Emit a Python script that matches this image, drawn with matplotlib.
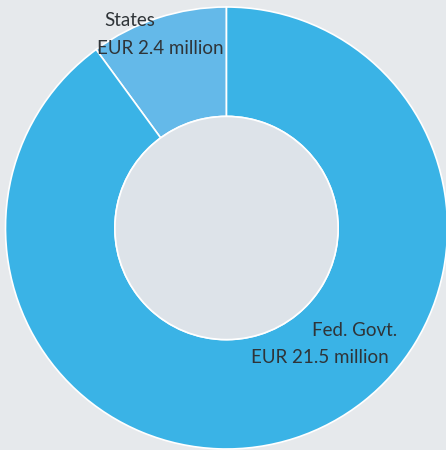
import matplotlib.pyplot as plt
from matplotlib.patches import Circle

labels = ["States", "Fed. Govt."]
amounts = [2.4, 21.5]  # EUR million
colors = ["#64b9e9", "#3ab3e6"]

bg = "#e6e9ec"
hole = "#dde3e9"
txt = "#2f3438"

fig = plt.figure(figsize=(4.46, 4.5), dpi=100, facecolor=bg)
ax = fig.add_axes([0, 0, 1, 1])
ax.set_facecolor(bg)

ax.pie(amounts, colors=colors, startangle=90, counterclock=True,
       radius=1.0, wedgeprops=dict(width=0.495, edgecolor="white", linewidth=1.2))
ax.add_patch(Circle((0, 0), 0.505, facecolor=hole, edgecolor="white", linewidth=1.2, zorder=3))

# map to pixel layout: centre at (226.5, 228), radius 221 px
r = 221.0
ax.set_xlim(-226.5 / r, (446 - 226.5) / r)
ax.set_ylim(-(450 - 228) / r, 228 / r)
ax.set_aspect("equal")
ax.axis("off")

font = dict(family="Lato", fontsize=13.5, color=txt, ha="left", va="center")
ax.text(-0.552, 0.941, labels[0], **font)
ax.text(-0.588, 0.814, f"EUR {amounts[0]} million", **font)
ax.text(0.385, -0.464, labels[1], **font)
ax.text(0.109, -0.586, f"EUR {amounts[1]} million", **font)

plt.savefig("out.png", dpi=100, facecolor=bg)
